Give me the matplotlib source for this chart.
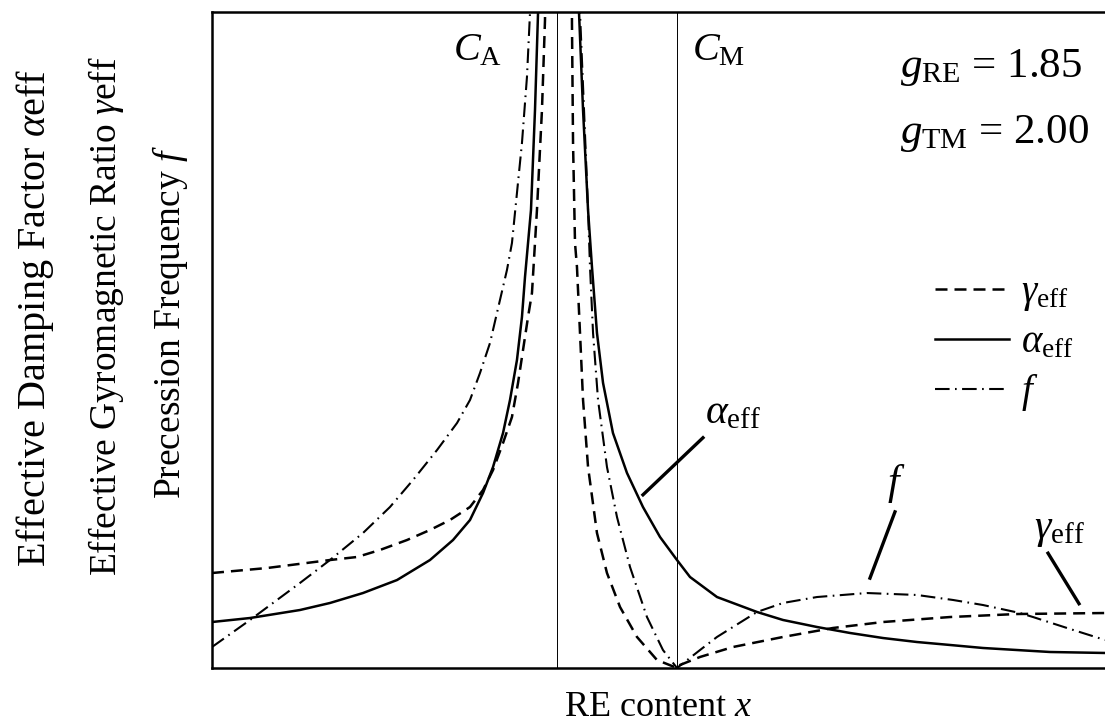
import numpy as np
import matplotlib
matplotlib.use("Agg")
import matplotlib.pyplot as plt

plt.rcParams['font.family'] = ['Liberation Serif', 'DejaVu Serif']
plt.rcParams['mathtext.fontset'] = 'custom'
plt.rcParams['mathtext.rm'] = 'Liberation Serif'
plt.rcParams['mathtext.it'] = 'Liberation Serif:italic'

# compensation points (RE content, arbitrary units 0-100)
x_CA = 38.6
x_CM = 52.07

# alpha_eff (solid), left and right of the divergence
alpha_left_x = [0.00, 4.26, 9.85, 13.21, 16.91, 20.72, 24.41, 26.99, 28.89, 30.35, 31.47, 32.59,
                33.37, 34.15, 34.71, 35.05, 35.72, 36.17, 36.51, 36.62]
alpha_left_y = [7.01, 7.62, 8.84, 9.91, 11.43, 13.41, 16.46, 19.51, 22.56, 26.68, 30.64, 35.82,
                40.85, 46.95, 53.51, 59.60, 69.82, 85.06, 99.85, 110]
alpha_right_x = [41.0, 41.10, 41.55, 42.11, 42.55, 43.11, 43.79, 44.90, 46.47, 48.26, 50.17, 52.07,
                 53.53, 56.55, 61.03, 63.94, 67.75, 71.44, 75.14, 78.95, 82.64, 86.34, 90.15, 93.84, 100]
alpha_right_y = [110, 99.85, 85.06, 69.82, 61.13, 51.07, 43.45, 35.82, 29.73, 24.54, 19.97, 16.46,
                 13.87, 10.82, 8.54, 7.32, 6.25, 5.34, 4.57, 3.96, 3.51, 3.05, 2.74, 2.44, 2.29]

# gamma_eff (dashed)
gamma_left_x = [0.00, 6.16, 13.21, 16.24, 18.81, 21.84, 24.41, 26.65, 28.89, 30.35, 31.47, 32.59,
                33.59, 34.27, 34.83, 35.39, 35.83, 36.39, 36.95, 37.29, 37.35]
gamma_left_y = [14.48, 15.24, 16.46, 16.92, 17.99, 19.51, 21.04, 22.56, 24.54, 27.13, 30.18, 34.30,
                38.26, 43.45, 48.48, 53.51, 57.16, 69.82, 85.06, 98.78, 110]
gamma_right_x = [40.29, 40.31, 40.43, 40.65, 40.87, 41.21, 41.55, 42.11, 43.11, 44.23, 45.69, 47.59,
                 49.83, 52.07, 52.41, 54.65, 58.34, 63.94, 69.54, 75.14, 82.64, 90.15, 100]
gamma_right_y = [110, 98.32, 80.03, 64.79, 61.13, 51.07, 40.85, 30.64, 20.58, 14.48, 9.30, 4.73,
                 1.22, 0.00, 0.46, 1.68, 3.20, 4.73, 6.10, 7.01, 7.77, 8.23, 8.38]

# precession frequency f (dash-dot)
f_left_x = [0.00, 4.26, 9.85, 13.21, 16.91, 19.93, 22.51, 25.20, 27.44, 28.89, 30.01, 31.13,
            31.91, 33.03, 33.59, 34.15, 34.71, 35.27, 35.61, 35.72]
f_left_y = [3.20, 7.32, 12.96, 16.46, 20.58, 24.54, 28.66, 33.23, 37.35, 40.85, 44.97, 49.54,
            54.12, 60.67, 64.79, 72.41, 80.03, 90.09, 99.85, 110]
f_right_x = [41.1, 41.21, 41.66, 42.11, 42.33, 42.67, 43.23, 44.23, 45.35, 46.81, 48.71, 50.50, 52.07,
             54.65, 56.55, 61.03, 63.94, 67.75, 73.35, 78.95, 82.98, 86.34, 90.48, 91.94, 95.74, 100]
f_right_y = [110, 99.85, 85.06, 69.82, 61.13, 51.07, 40.85, 30.64, 23.02, 15.40, 7.77, 2.74, 0.00,
             2.74, 4.73, 8.54, 9.91, 10.82, 11.43, 11.13, 10.37, 9.60, 8.38, 7.77, 6.10, 4.27]

lw = 1.8
dash = (4.8, 2.8)
dashdot = (7.0, 2.6, 0.8, 2.6)

fig = plt.figure(figsize=(11.05, 7.24), dpi=100)
ax = fig.add_axes([212 / 1105, 56 / 724, 1 - 212 / 1105, 656 / 724])

ax.axvline(x_CA, color='black', lw=0.7)
ax.axvline(x_CM, color='black', lw=0.7)

lg, = ax.plot(gamma_left_x, gamma_left_y, color='black', lw=lw, dashes=dash)
ax.plot(gamma_right_x, gamma_right_y, color='black', lw=lw, dashes=dash)
la, = ax.plot(alpha_left_x, alpha_left_y, color='black', lw=lw)
ax.plot(alpha_right_x, alpha_right_y, color='black', lw=lw)
lf, = ax.plot(f_left_x, f_left_y, color='black', lw=1.5, dashes=dashdot)
ax.plot(f_right_x, f_right_y, color='black', lw=1.5, dashes=dashdot)

ax.set_xlim(0, 100)
ax.set_ylim(0, 100)
ax.set_xticks([])
ax.set_yticks([])
for s in ['left', 'top', 'bottom']:
    ax.spines[s].set_linewidth(1.8)
ax.spines['right'].set_visible(False)

# pointer lines and labels
ax.plot([48.26, 54.98], [26.4, 35.1], color='black', lw=2.4)
ax.text(55.2, 37.3, r'$\alpha_{\rm eff}$', fontsize=30, ha='left', va='baseline')
ax.plot([73.68, 76.48], [13.7, 23.8], color='black', lw=2.4)
ax.text(75.6, 26.5, r'$f$', fontsize=30, ha='left', va='baseline')
ax.plot([93.62, 97.09], [17.5, 9.8], color='black', lw=2.4)
ax.text(92.0, 19.8, r'$\gamma_{\rm eff}$', fontsize=30, ha='left', va='baseline')

ax.text(27.0, 92.7, r'$C_{\rm A}$', fontsize=29, ha='left', va='baseline')
ax.text(53.75, 92.7, r'$C_{\rm M}$', fontsize=29, ha='left', va='baseline')
ax.text(77.0, 90.1, r'$g_{\rm RE}$ = 1.85', fontsize=31, ha='left', va='baseline')
ax.text(77.0, 80.0, r'$g_{\rm TM}$ = 2.00', fontsize=31, ha='left', va='baseline')

ax.legend([lg, la, lf], [r'$\gamma_{\rm eff}$', r'$\alpha_{\rm eff}$', r'$f$'],
          loc='upper left', bbox_to_anchor=(0.81, 0.60), frameon=False,
          fontsize=28, handlelength=1.9, handletextpad=0.3, labelspacing=0.28,
          borderpad=0, borderaxespad=0)

fig.text(658 / 1105, 8 / 724, r'RE content $x$', fontsize=26, ha='center', va='baseline')
fig.text(35 / 1105, 0.561, r'Effective Damping Factor $\alpha$eff', fontsize=29,
         rotation=90, ha='center', va='center')
fig.text(106 / 1105, 0.563, r'Effective Gyromagnetic Ratio $\gamma$eff', fontsize=27,
         rotation=90, ha='center', va='center')
fig.text(170 / 1105, 0.556, r'Precession Frequency $f$', fontsize=27,
         rotation=90, ha='center', va='center')

fig.savefig('out.png', dpi=100)
